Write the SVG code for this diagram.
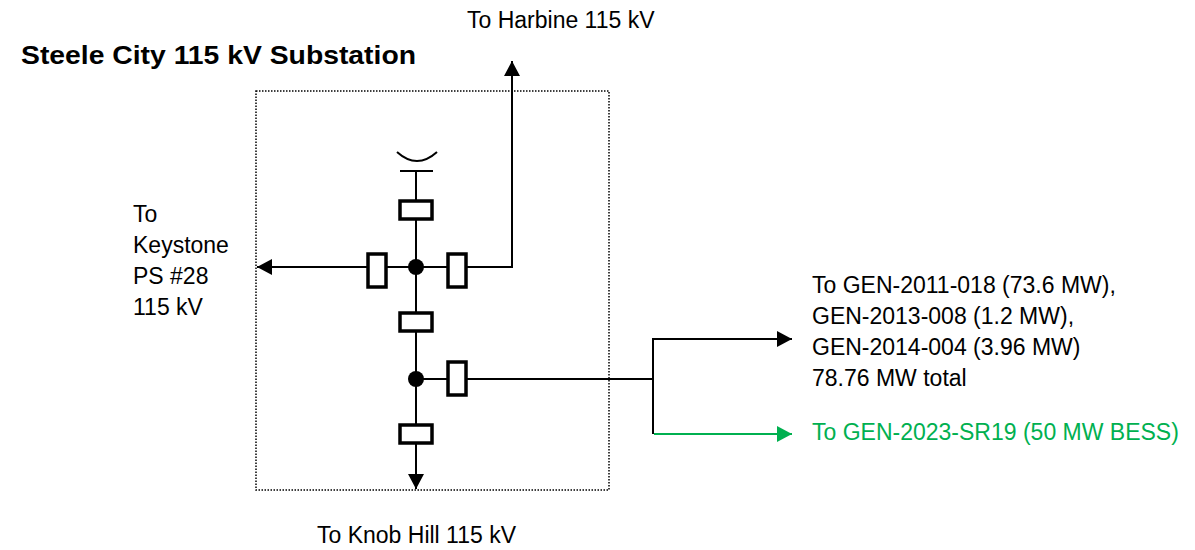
<svg xmlns="http://www.w3.org/2000/svg" width="1195" height="550" viewBox="0 0 1195 550">
<style>
text{font-family:"Liberation Sans",Arial,sans-serif;font-size:23px;fill:#000}
.title{font-weight:bold;font-size:25px}
.green{fill:#00B050}
.wire{fill:none;stroke:#000;stroke-width:2}
.gwire{fill:none;stroke:#00B050;stroke-width:2}
.brk{fill:#fff;stroke:#000;stroke-width:3.5}
.box{fill:none;stroke:#000;stroke-width:1.5;stroke-dasharray:1.5 1.5}
</style>
<defs>
<marker id="ah" markerUnits="userSpaceOnUse" markerWidth="16" markerHeight="16" refX="15" refY="8" orient="auto">
<path d="M0,0 L15,8 L0,16 Z" fill="#000"/>
</marker>
<marker id="ahg" markerUnits="userSpaceOnUse" markerWidth="16" markerHeight="16" refX="15" refY="8" orient="auto">
<path d="M0,0 L15,8 L0,16 Z" fill="#00B050"/>
</marker>
</defs>
<rect class="box" x="256" y="91" width="353" height="399"/>
<text class="title" x="21" y="64" textLength="395" lengthAdjust="spacingAndGlyphs">Steele City 115 kV Substation</text>
<g id="connectors">
<path class="wire" d="M416,171 V425"/>
<path class="wire" d="M467,267 H512 V61" marker-end="url(#ah)"/>
<path class="wire" d="M368,267 H257" marker-end="url(#ah)"/>
<path class="wire" d="M366,267 H468"/>
<path class="wire" d="M416,379 H653"/>
<path class="wire" d="M653,339 V434"/>
<path class="wire" d="M652,339 H792" marker-end="url(#ah)"/>
<path class="gwire" d="M654,434 H792" marker-end="url(#ahg)"/>
<path class="wire" d="M416,443 V489" marker-end="url(#ah)"/>
</g>
<g id="capacitor">
<path class="wire" d="M397,152 Q417,170 437,152"/>
<path class="wire" d="M400,171 H433"/>
</g>
<g id="brk-top"><rect class="brk" x="400" y="201" width="32" height="18"/></g>
<g id="brk-left"><rect class="brk" x="368" y="254" width="18" height="33"/></g>
<g id="brk-right"><rect class="brk" x="448" y="254" width="18" height="33"/></g>
<g id="bus-1"><circle cx="416" cy="267" r="8" fill="#000"/></g>
<g id="brk-mid"><rect class="brk" x="400" y="313" width="32" height="18"/></g>
<g id="brk-right2"><rect class="brk" x="448" y="362" width="18" height="33"/></g>
<g id="bus-2"><circle cx="416" cy="379" r="8" fill="#000"/></g>
<g id="brk-bottom"><rect class="brk" x="400" y="425" width="32" height="18"/></g>
<g id="label-harbine"><text x="467" y="28">To Harbine 115 kV</text></g>
<g id="label-keystone">
<text x="133" y="222">To</text>
<text x="133" y="253">Keystone</text>
<text x="133" y="284">PS #28</text>
<text x="133" y="315">115 kV</text>
</g>
<g id="label-gen">
<text x="812" y="293">To GEN-2011-018 (73.6 MW),</text>
<text x="812" y="324">GEN-2013-008 (1.2 MW),</text>
<text x="812" y="355">GEN-2014-004 (3.96 MW)</text>
<text x="812" y="386">78.76 MW total</text>
</g>
<g id="label-bess"><text class="green" x="812" y="440">To GEN-2023-SR19 (50 MW BESS)</text></g>
<g id="label-knob"><text x="317" y="543">To Knob Hill 115 kV</text></g>
</svg>
